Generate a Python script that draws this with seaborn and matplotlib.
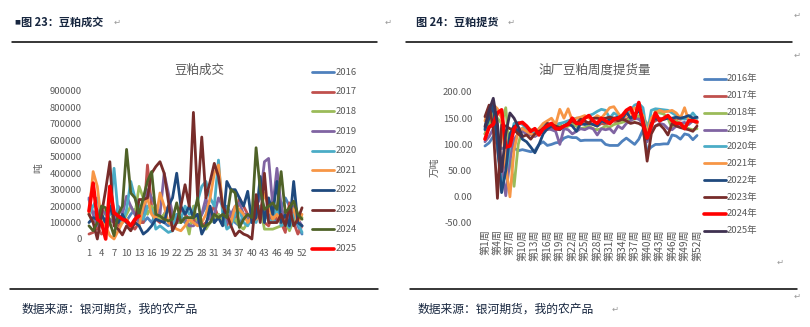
import matplotlib
matplotlib.use("Agg")
import matplotlib.pyplot as plt
import seaborn as sns
import pandas as pd
from matplotlib.lines import Line2D

sns.set_theme(style="white")
plt.rcParams["font.family"] = ["Noto Sans CJK SC", "DejaVu Sans"]
plt.rcParams["axes.unicode_minus"] = False

# ---------------- data: 豆粕成交 (吨) ----------------
left_years = ["2016", "2017", "2018", "2019", "2020", "2021", "2022", "2023", "2024", "2025"]
left_colors = ["#4F81BD", "#C0504D", "#9BBB59", "#8064A2", "#4BACC6",
               "#F79646", "#1F497D", "#772C2A", "#4F6228", "#FF0000"]
left_ticks = list(range(1, 53, 3))

l2016 = [240000,150000,180000,120000,100000,200000,150000,100000,130000,110000,
         150000,180000,120000,100000,130000,100000,150000,120000,100000,80000,
         100000,150000,120000,100000,80000,120000,100000,150000,200000,130000,
         100000,150000,120000,200000,150000,100000,80000,150000,120000,100000,
         150000,200000,130000,150000,100000,120000,180000,250000,200000,150000,
         80000,30000]
l2017 = [30000,40000,70000,30000,50000,100000,150000,80000,120000,100000,
         80000,60000,100000,100000,450000,200000,120000,100000,150000,200000,
         150000,100000,180000,150000,120000,100000,150000,80000,100000,150000,
         200000,130000,100000,80000,150000,120000,250000,200000,150000,100000,
         120000,150000,100000,80000,150000,120000,100000,40000,220000,100000,
         30000,80000]
l2018 = [150000,100000,150000,120000,180000,100000,150000,120000,100000,150000,
         200000,150000,320000,250000,150000,200000,150000,120000,150000,180000,
         130000,100000,100000,130000,30000,200000,100000,80000,60000,100000,
         120000,150000,100000,150000,100000,120000,80000,60000,100000,130000,
         120000,200000,60000,60000,60000,70000,80000,100000,50000,120000,
         150000,130000]
l2019 = [250000,150000,80000,180000,150000,120000,100000,200000,150000,260000,
         200000,150000,100000,150000,300000,250000,200000,150000,400000,280000,
         150000,100000,130000,120000,80000,80000,100000,150000,250000,120000,
         150000,250000,200000,100000,150000,200000,220000,150000,150000,100000,
         200000,250000,470000,490000,200000,430000,200000,100000,150000,200000,
         120000,80000]
l2020 = [150000,200000,250000,150000,100000,150000,430000,150000,100000,180000,
         350000,250000,200000,120000,200000,180000,60000,80000,60000,40000,
         50000,150000,120000,200000,150000,170000,230000,320000,350000,250000,
         200000,480000,150000,60000,80000,150000,180000,100000,80000,130000,
         100000,200000,150000,120000,100000,200000,80000,100000,70000,150000,
         100000,40000]
l2021 = [150000,410000,320000,100000,80000,20000,0,50000,100000,120000,
         80000,100000,80000,200000,250000,150000,120000,280000,200000,100000,
         80000,60000,50000,80000,120000,100000,80000,100000,150000,250000,
         400000,450000,200000,150000,100000,200000,180000,150000,100000,130000,
         120000,150000,280000,200000,120000,150000,100000,130000,200000,180000,
         100000,150000]
l2022 = [100000,130000,120000,150000,100000,200000,120000,100000,150000,100000,
         80000,100000,80000,30000,50000,80000,120000,110000,100000,200000,
         250000,400000,200000,150000,200000,130000,150000,30000,80000,200000,
         100000,130000,80000,350000,300000,300000,250000,200000,290000,100000,
         130000,380000,100000,250000,150000,350000,100000,150000,80000,350000,
         100000,80000]
l2023 = [150000,100000,0,150000,300000,470000,80000,60000,25000,80000,
         50000,100000,240000,240000,250000,400000,440000,470000,400000,230000,
         50000,100000,200000,330000,200000,770000,250000,620000,250000,350000,
         460000,380000,200000,150000,80000,20000,50000,30000,20000,0,
         270000,100000,400000,100000,100000,100000,150000,80000,200000,80000,
         120000,190000]
l2024 = [80000,50000,100000,200000,190000,100000,20000,150000,200000,545000,
         280000,250000,150000,250000,350000,410000,150000,140000,120000,110000,
         120000,220000,100000,130000,130000,130000,250000,80000,80000,100000,
         150000,130000,150000,130000,300000,280000,70000,120000,150000,130000,
         555000,300000,180000,200000,220000,180000,410000,160000,190000,230000,
         150000,120000]
l2025 = [170000,340000,120000,100000,0,320000,160000,140000,120000,110000,
         80000,120000,140000]
left_series = [l2016, l2017, l2018, l2019, l2020, l2021, l2022, l2023, l2024, l2025]
left_yticks = [0, 100000, 200000, 300000, 400000, 500000, 600000, 700000, 800000, 900000]

# ---------------- data: 油厂豆粕周度提货量 (万吨) ----------------
right_years = ["2016年", "2017年", "2018年", "2019年", "2020年",
               "2021年", "2022年", "2023年", "2024年", "2025年"]
right_colors = ["#4F81BD", "#C0504D", "#9BBB59", "#8064A2", "#4BACC6",
                "#F79646", "#1F497D", "#772C2A", "#FF0000", "#3F3151"]
right_ticks = list(range(1, 53, 3))

r2016 = [97,103,115,100,92,95,100,93,88,90, 88,86,88,100,105,98,100,103,104,112,
         115,113,113,107,108,108,108,108,108,100, 98,98,98,106,112,106,100,110,128,87,
         95,100,100,101,101,118,116,110,120,118, 109,117]
r2017 = [120,135,150,90,35,80,120,125,128,130, 125,120,118,125,130,128,132,130,128,135,
         138,140,135,138,140,142,138,135,140,138, 142,145,140,150,148,152,155,150,145,120,
         140,145,150,148,150,145,150,148,150,148, 150,150]
r2018 = [120,140,160,150,140,170,80,20,100,130, 135,128,125,120,130,135,138,130,140,130,
         135,138,135,130,132,135,130,128,130,135, 133,138,140,142,145,150,148,155,150,140,
         130,165,160,158,150,130,145,140,135,130, 128,130]
r2019 = [105,115,130,125,60,2,70,110,120,125, 120,118,115,120,125,130,128,125,100,130,
         128,120,125,130,128,132,130,118,130,128, 130,122,135,130,140,145,150,148,140,105,
         125,135,140,138,130,128,135,140,142,138, 145,140]
r2020 = [130,170,175,100,25,40,100,140,142,138, 130,125,120,130,138,140,135,138,140,142,
         145,148,150,150,152,155,158,163,167,165, 150,160,155,150,158,165,175,178,170,120,
         165,168,167,166,165,160,155,150,148,150, 160,150]
r2021 = [145,170,176,168,150,60,0,90,125,130, 125,120,118,130,140,145,150,138,167,150,
         168,145,150,152,155,150,148,155,150,160, 170,172,160,150,155,160,170,165,155,120,
         150,160,165,162,163,165,160,150,170,145, 150,140]
r2022 = [128,150,175,100,8,50,120,135,125,110, 105,95,84,100,120,130,135,130,128,135,
         140,135,125,140,138,140,138,135,145,142, 148,150,152,148,162,150,155,165,148,110,
         140,150,145,148,150,150,152,150,152,155, 150,152]
r2023 = [153,175,130,-3,137,135,130,128,120,115, 118,110,120,125,130,140,138,135,132,135,
         140,145,140,148,145,140,150,150,148,150, 152,150,145,148,145,140,142,140,135,68,
         120,135,138,130,118,140,135,132,130,128, 125,135]
r2024 = [110,133,138,160,166,95,97,130,140,142, 135,125,130,118,130,135,140,130,130,135,
         138,150,140,140,150,155,145,140,150,145, 140,148,150,155,165,170,150,180,140,112,
         135,160,145,150,155,145,140,140,130,145, 145,143]
r2025 = [134,165,188,140,48,120,160,150,134,115]
right_series = [r2016, r2017, r2018, r2019, r2020, r2021, r2022, r2023, r2024, r2025]
right_yticks = [-50, 0, 50, 100, 150, 200]

# ---------------- figure ----------------
W, H = 810, 327
fig = plt.figure(figsize=(W / 100, H / 100), dpi=100)
fig.patch.set_facecolor("white")


def fx(x):
    return x / W


def fy(y):
    return 1 - y / H


def hline(x0, x1, y, lw=1.1, color="black"):
    fig.add_artist(Line2D([fx(x0), fx(x1)], [fy(y), fy(y)], color=color, lw=lw,
                          transform=fig.transFigure))


GREY = "#595959"
NAVY = "#17263f"
THIN, THICK = 2.0, 2.6


def make_df(series, names):
    rows = []
    for name, vals in zip(names, series):
        for i, v in enumerate(vals):
            rows.append((name, i + 1, v))
    return pd.DataFrame(rows, columns=["year", "week", "value"])


def draw_panel(ax, df, names, colors, thick):
    for name, c in zip(names, colors):
        sub = df[df["year"] == name]
        lw = THICK if name == thick else THIN
        sns.lineplot(data=sub, x="week", y="value", ax=ax, color=c, lw=lw,
                     legend=False, estimator=None, sort=False)
    for ln in ax.lines:
        ln.set_clip_on(False)
    ax.set_xlabel("")
    ax.set_ylabel("")
    for s in ax.spines.values():
        s.set_visible(False)
    ax.set_facecolor("none")
    ax.grid(False)


# ---- left panel ----
axL = fig.add_axes([fx(87.3), fy(239), fx(303.7) - fx(87.3), (239 - 91) / H])
dfL = make_df(left_series, left_years)
draw_panel(axL, dfL, left_years, left_colors, "2025")
axL.set_xlim(0.6, 52.4)
axL.set_ylim(0, 900000)
axL.set_yticks(left_yticks)
axL.set_yticklabels([str(v) for v in left_yticks])
axL.set_xticks(left_ticks)
axL.set_xticklabels([str(v) for v in left_ticks])
axL.tick_params(axis="y", length=0, pad=4.0, labelsize=6.8, labelcolor=GREY)
axL.tick_params(axis="x", length=0, pad=7.0, labelsize=6.8, labelcolor=GREY)

fig.text(fx(199), fy(70), "豆粕成交", ha="center", va="center", fontsize=9, color=GREY)
fig.text(fx(38), fy(168), "吨", ha="center", va="center", fontsize=7, color=GREY, rotation=90)

for i, (name, c) in enumerate(zip(left_years, left_colors)):
    y = 72.3 + i * 19.6
    lw = THICK if name == "2025" else THIN
    fig.add_artist(Line2D([fx(312), fx(334)], [fy(y), fy(y)], color=c, lw=lw,
                          transform=fig.transFigure))
    fig.text(fx(336), fy(y), name, ha="left", va="center", fontsize=6.8, color=GREY)

# ---- right panel ----
axR = fig.add_axes([fx(483.3), fy(223), fx(698.7) - fx(483.3), (223 - 92) / H])
dfR = make_df(right_series, right_years)
draw_panel(axR, dfR, right_years, right_colors, "2024年")
axR.set_xlim(0.6, 52.4)
axR.set_ylim(-50, 200)
axR.set_yticks(right_yticks)
axR.set_yticklabels([f"{v:.2f}" for v in right_yticks])
axR.set_xticks(right_ticks)
axR.set_xticklabels([f"第{v}周" for v in right_ticks], rotation=90, va="top", ha="center")
axR.tick_params(axis="y", length=0, pad=8.0, labelsize=6.8, labelcolor=GREY)
axR.tick_params(axis="x", length=0, pad=4.5, labelsize=7.3, labelcolor=GREY)

fig.text(fx(595), fy(70), "油厂豆粕周度提货量", ha="center", va="center", fontsize=9, color=GREY)
fig.text(fx(435), fy(167), "万吨", ha="center", va="center", fontsize=7, color=GREY, rotation=90)

for i, (name, c) in enumerate(zip(right_years, right_colors)):
    y = 79 + i * 16.86
    lw = THICK if name == "2024年" else THIN
    fig.add_artist(Line2D([fx(704), fx(726)], [fy(y), fy(y)], color=c, lw=lw,
                          transform=fig.transFigure))
    fig.text(fx(727), fy(y), name, ha="left", va="center", fontsize=6.8, color=GREY)

# ---------------- document decorations ----------------
fig.text(fx(14), fy(22), "■", ha="left", va="center", fontsize=4.5, color=NAVY,
         family=["DejaVu Sans"])
fig.text(fx(21), fy(22), "图 23：豆粕成交", ha="left", va="center", fontsize=8,
         fontweight="bold", color=NAVY)
fig.text(fx(114), fy(22), "↵", ha="left", va="center", fontsize=6, color="#999999",
         family=["DejaVu Sans"])
fig.text(fx(416), fy(22), "图 24：豆粕提货", ha="left", va="center", fontsize=8,
         fontweight="bold", color=NAVY)
fig.text(fx(508), fy(22), "↵", ha="left", va="center", fontsize=6, color="#999999",
         family=["DejaVu Sans"])
for (x, y) in [(388, 22), (797, 15), (797, 55), (780, 262), (797, 296)]:
    fig.text(fx(x), fy(y), "↵", ha="center", va="center", fontsize=6, color="#999999",
             family=["DejaVu Sans"])

hline(12, 377, 42)
hline(406, 792, 42)
hline(10, 378, 289)
hline(410, 797, 289)

fig.text(fx(22), fy(309), "数据来源：银河期货，我的农产品", ha="left", va="center",
         fontsize=8.5, color=NAVY)
fig.text(fx(418), fy(309), "数据来源：银河期货，我的农产品", ha="left", va="center",
         fontsize=8.5, color=NAVY)
fig.text(fx(612), fy(309), "↵", ha="left", va="center", fontsize=6, color="#999999",
         family=["DejaVu Sans"])

fig.savefig("out.png", dpi=100, facecolor="white")
